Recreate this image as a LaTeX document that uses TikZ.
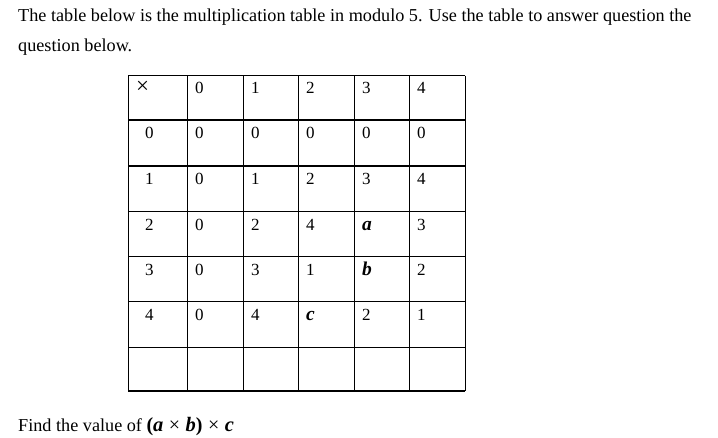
\documentclass[tikz,border=0pt]{standalone}
\usepackage{fontspec}
\setmainfont{Liberation Serif}
\newcommand{\bv}[1]{{\fontsize{20.5}{22}\selectfont\textbf{\textit{#1}}}}
\newcommand{\tm}{\hspace{0.3em}{\fontsize{20}{22}\selectfont×}\hspace{0.3em}}
\begin{document}
\begin{tikzpicture}[x=1pt,y=-1pt,
  txt/.style={anchor=base west,inner sep=0pt,font=\fontsize{18.2}{21}\selectfont},
  cell/.style={anchor=base west,inner sep=0pt,font=\fontsize{17}{20}\selectfont},
  grid/.style={line width=1.2pt,black}]
\useasboundingbox (0,0) rectangle (718,437);
\node[txt] (l1) at (18,21.7) {The table below is the multiplication table in modulo 5. Use the table to answer question the};
\node[txt] (l2) at (18,51) {question below.};
\node[txt] (q) at (18,431) {Find the value of {\fontsize{20}{22}\selectfont\textbf{(}}\bv{a}\tm\bv{b}{\fontsize{20}{22}\selectfont\textbf{)}}\tm\bv{c}};
% grid
\foreach \x in {128.3,187.3,243.3,298.3,354.3,409.3,465.3}
  \draw[grid] (\x,75.7) -- (\x,391);
\foreach \y in {75.7,120,166,211.7,256.7,301.7,347.3,391}
  \draw[grid] (128.3,\y) -- (465.3,\y);
% header row
\node[cell,font=\fontsize{23}{24}\selectfont] (h) at (136,93) {×};
\node[cell] (h0) at (195,93.5) {0};
\node[cell] (h1) at (251,93.5) {1};
\node[cell] (h2) at (306,93.5) {2};
\node[cell] (h3) at (362,93.5) {3};
\node[cell] (h4) at (417,93.5) {4};
% rows
\node[cell] (r0) at (145,138.5) {0};
\node[cell] (r00) at (195,138.5) {0};
\node[cell] (r01) at (251,138.5) {0};
\node[cell] (r02) at (306,138.5) {0};
\node[cell] (r03) at (362,138.5) {0};
\node[cell] (r04) at (417,138.5) {0};
\node[cell] (r1) at (145,184.5) {1};
\node[cell] (r10) at (195,184.5) {0};
\node[cell] (r11) at (251,184.5) {1};
\node[cell] (r12) at (306,184.5) {2};
\node[cell] (r13) at (362,184.5) {3};
\node[cell] (r14) at (417,184.5) {4};
\node[cell] (r2) at (145,230) {2};
\node[cell] (r20) at (195,230) {0};
\node[cell] (r21) at (251,230) {2};
\node[cell] (r22) at (306,230) {4};
\node[cell,font=\fontsize{19.5}{20}\selectfont] (r23) at (362,230) {\textbf{\textit{a}}};
\node[cell] (r24) at (417,230) {3};
\node[cell] (r3) at (145,275) {3};
\node[cell] (r30) at (195,275) {0};
\node[cell] (r31) at (251,275) {3};
\node[cell] (r32) at (306,275) {1};
\node[cell,font=\fontsize{19.5}{20}\selectfont] (r33) at (362,275) {\textbf{\textit{b}}};
\node[cell] (r34) at (417,275) {2};
\node[cell] (r4) at (145,320) {4};
\node[cell] (r40) at (195,320) {0};
\node[cell] (r41) at (251,320) {4};
\node[cell,font=\fontsize{19.5}{20}\selectfont] (r42) at (306,320) {\textbf{\textit{c}}};
\node[cell] (r43) at (362,320) {2};
\node[cell] (r44) at (417,320) {1};
\end{tikzpicture}
\end{document}
